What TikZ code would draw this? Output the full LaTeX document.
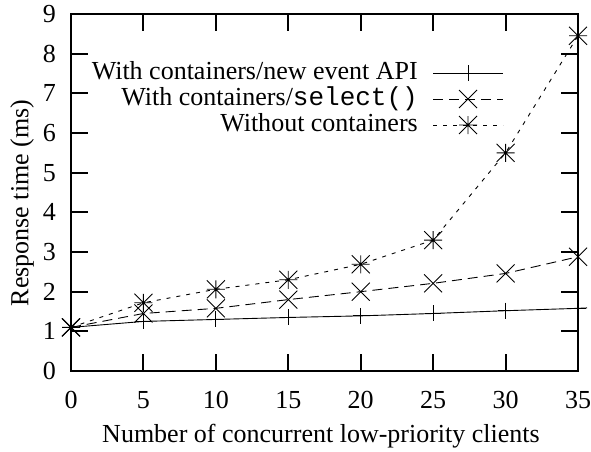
\documentclass[tikz,border=0pt]{standalone}
\usepackage{fontspec}
\setmainfont{Liberation Serif}
\setmonofont{Liberation Mono}
\begin{document}
\begin{tikzpicture}[x=1pt,y=-1pt,
  axisline/.style={line width=2pt},
  tickmark/.style={line width=2pt},
  ticklabel/.style={font=\fontsize{26}{28}\selectfont, inner sep=0pt},
  axtitle/.style={font=\fontsize{26}{28}\selectfont, inner sep=0pt},
  legtext/.style={font=\fontsize{26}{28}\selectfont, inner sep=0pt, anchor=east, text height=17pt, text depth=5pt},
  solidser/.style={line width=0.9pt},
  dashser/.style={line width=0.9pt, dash pattern=on 10pt off 6pt},
  dotser/.style={line width=0.9pt, dash pattern=on 4pt off 6pt},
  plusmark/.pic={\draw[line width=0.9pt] (-8,0) -- (8,0) (0,-8) -- (0,8);},
  crossmark/.pic={\draw[line width=0.9pt] (-9,-9) -- (9,9) (-9,9) -- (9,-9);},
  starmark/.pic={\draw[line width=0.9pt] (-9,-9) -- (9,9) (-9,9) -- (9,-9) (-9,0) -- (9,0) (0,-9) -- (0,9);}
]
\useasboundingbox (0,0) rectangle (591,451);
% axis geometry: x: 71 + 14.486 v ; y: 371 - 39.67 v
\def\XL{71}\def\XR{578}\def\YB{371}\def\YT{14}
% ticks
\foreach \v in {0,...,9} {
  \pgfmathsetmacro\yy{371-39.67*\v}
  \draw[tickmark] (\XL,\yy) -- ++(17,0);
  \draw[tickmark] (\XR,\yy) -- ++(-17,0);
  \node[ticklabel, anchor=east] (yl\v) at (56,\yy) {\v};
}
\foreach \v in {0,5,...,35} {
  \pgfmathsetmacro\xx{71+14.486*\v}
  \draw[tickmark] (\xx,\YB) -- ++(0,-17);
  \draw[tickmark] (\xx,\YT) -- ++(0,17);
  \node[ticklabel] (xl\v) at (\xx,400) {\v};
}
\draw[axisline] (\XL,\YT) rectangle (\XR,\YB);
% axis titles
\node[axtitle] (xt) at (321,436) {Number of concurrent low-priority clients};
\node[axtitle, rotate=90] (yt) at (22,203) {Response time (ms)};
% data coordinates
\foreach \i/\a/\b/\c in {0/1.1/1.1/1.1, 5/1.25/1.45/1.72, 10/1.30/1.58/2.06, 15/1.35/1.80/2.30,
                        20/1.39/2.00/2.69, 25/1.45/2.21/3.30, 30/1.52/2.46/5.50, 35/1.58/2.88/8.45} {
  \pgfmathsetmacro\xx{71+14.486*\i}
  \pgfmathsetmacro\ya{371-39.67*\a}
  \pgfmathsetmacro\yb{371-39.67*\b}
  \pgfmathsetmacro\yc{371-39.67*\c}
  \coordinate (a\i) at (\xx,\ya);
  \coordinate (b\i) at (\xx,\yb);
  \coordinate (c\i) at (\xx,\yc);
}
\coordinate (aend) at (587,307.9);
% series
\draw[solidser] (a0) -- (a5) -- (a10) -- (a15) -- (a20) -- (a25) -- (a30) -- (a35) -- (aend);
\draw[dashser] (b0) -- (b5) -- (b10) -- (b15) -- (b20) -- (b25) -- (b30) -- (b35);
\draw[dotser] (c0) -- (c5) -- (c10) -- (c15) -- (c20) -- (c25) -- (c30) -- (c35);
\foreach \i in {0,5,...,35} {
  \pic at (a\i) {plusmark};
  \pic at (b\i) {crossmark};
  \pic at (c\i) {starmark};
}
% legend
\node[legtext] (l1) at (418,73) {With containers/new event API};
\node[legtext] (l2) at (418,99) {With containers/\texttt{select()}};
\node[legtext] (l3) at (418,125) {Without containers};
\coordinate (s1a) at (433,73); \coordinate (s1b) at (503,73); \coordinate (m1) at (468,73);
\coordinate (s2a) at (433,99); \coordinate (s2b) at (503,99); \coordinate (m2) at (468,99);
\coordinate (s3a) at (433,125); \coordinate (s3b) at (503,125); \coordinate (m3) at (468,125);
\draw[solidser] (s1a) -- (s1b);
\draw[dashser] (s2a) -- (s2b);
\draw[dotser] (s3a) -- (s3b);
\pic at (m1) {plusmark};
\pic at (m2) {crossmark};
\pic at (m3) {starmark};
\end{tikzpicture}
\end{document}
